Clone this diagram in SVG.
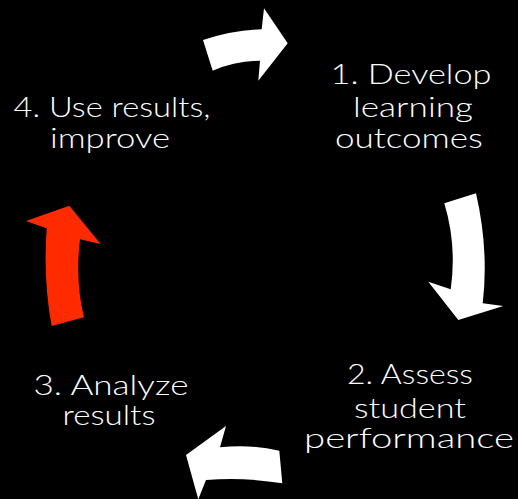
<svg xmlns="http://www.w3.org/2000/svg" width="518" height="499" viewBox="0 0 518 499">
  <style>
    .label { font-family: Lato, "DejaVu Sans", "Liberation Sans", sans-serif; font-weight: 300; font-size: 27px; fill: #ffffff; text-anchor: middle; }
    .arrow { fill: #ffffff; }
    .arrow.hot { fill: #ff2a00; }
  </style>
  <rect x="0" y="0" width="518" height="499" fill="#000000"/>

  <g id="step1">
    <text class="label" x="411" y="84" textLength="161" lengthAdjust="spacingAndGlyphs">1. Develop</text>
    <text class="label" x="413" y="117" textLength="120" lengthAdjust="spacingAndGlyphs">learning</text>
    <text class="label" x="409" y="148" textLength="148" lengthAdjust="spacingAndGlyphs">outcomes</text>
  </g>
  <g id="step2">
    <text class="label" x="410" y="384" textLength="126" lengthAdjust="spacingAndGlyphs">2. Assess</text>
    <text class="label" x="410" y="418" textLength="112" lengthAdjust="spacingAndGlyphs">student</text>
    <text class="label" x="409" y="448" textLength="210" lengthAdjust="spacingAndGlyphs">performance</text>
  </g>
  <g id="step3">
    <text class="label" x="111" y="395" textLength="155" lengthAdjust="spacingAndGlyphs">3. Analyze</text>
    <text class="label" x="109" y="425" textLength="93" lengthAdjust="spacingAndGlyphs">results</text>
  </g>
  <g id="step4">
    <text class="label" x="112" y="117" textLength="197" lengthAdjust="spacingAndGlyphs">4. Use results,</text>
    <text class="label" x="110" y="148" textLength="120" lengthAdjust="spacingAndGlyphs">improve</text>
  </g>

  <g id="connectors">
    <path class="arrow" d="M203,40 Q233,30 261.7,29.3 L264,8.3 L287.7,43.3 L258.3,80.7 L260,60.7 Q235,61 212.7,70.7 Z"/>
    <path class="arrow" d="M444.3,203.3 L476,193.3 Q489,250 482.7,303.3 L503.3,306 L458.3,320 L428.3,281.7 L450.7,289.3 Q457,245 444.3,203.3 Z"/>
    <path class="arrow" d="M279.3,450.7 L282.3,483.3 Q245,477 206,480 L198.3,499.3 L186,455 L226,426 L220,447.3 Q250,444 279.3,450.7 Z"/>
    <path class="arrow hot" d="M51.7,326 L84,317.3 Q75,280 80,239.3 L100.7,244 L69.3,205.7 L26,221 L46.7,228.3 Q43,280 51.7,326 Z"/>
  </g>
</svg>
